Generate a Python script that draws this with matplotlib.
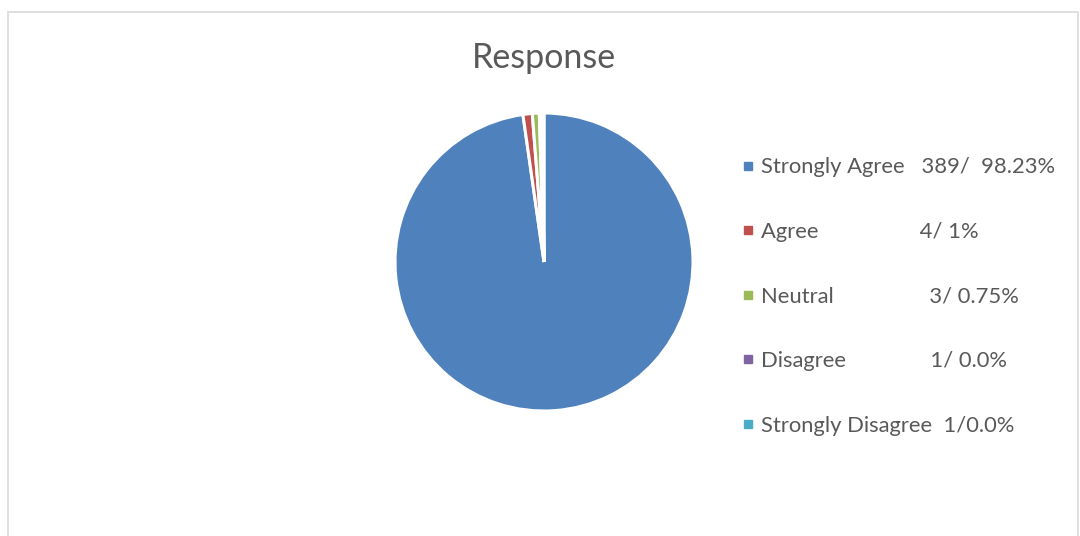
import matplotlib
matplotlib.use("Agg")
import matplotlib.pyplot as plt
from matplotlib.lines import Line2D
from matplotlib.patches import Rectangle

# Data
categories = ["Strongly Agree", "Agree", "Neutral", "Disagree", "Strongly Disagree"]
counts = [389, 4, 3, 1, 1]
value_labels = ["389/  98.23%", "4/ 1%", "3/ 0.75%", "1/ 0.0%", "1/0.0%"]
label_gaps = ["   ", "                  ", "                 ", "               ", "  "]
colors = ["#4F81BD", "#C0504D", "#9BBB59", "#8064A2", "#4BACC6"]

plt.rcParams["font.family"] = ["Lato", "DejaVu Sans"]
text_color = "#595959"

fig = plt.figure(figsize=(10.8, 5.36), dpi=100)

# Chart border
fig.add_artist(Rectangle((8 / 1080, -0.1), 1070 / 1080, 1.1 - 12 / 536,
                         transform=fig.transFigure, fill=False,
                         edgecolor="#d9d9d9", linewidth=1.2))

ax = fig.add_axes([395 / 1080, 125 / 536, 298 / 1080, 298 / 536])
ax.pie(counts, colors=colors, startangle=90, counterclock=False,
       wedgeprops=dict(edgecolor="white", linewidth=2.2))
ax.set_xlim(-1, 1)
ax.set_ylim(-1, 1)
ax.set_aspect("equal")
ax.axis("off")

fig.text(544 / 1080, 1 - 58 / 536, "Response", ha="center", va="center",
         fontsize=24.5, color=text_color)

handles = [Line2D([], [], marker="s", linestyle="none", markersize=5.8,
                  markerfacecolor=c, markeredgecolor=c) for c in colors]
labels = [cat + gap + val for cat, gap, val in zip(categories, label_gaps, value_labels)]
leg = fig.legend(handles, labels, loc="center left",
                 bbox_to_anchor=(742 / 1080, 1 - 296.5 / 536),
                 frameon=False, fontsize=15.8, labelspacing=2.03,
                 handlelength=0.55, handletextpad=0.32,
                 borderpad=0, borderaxespad=0)
for t in leg.get_texts():
    t.set_color(text_color)

fig.savefig("out.png", dpi=100)
